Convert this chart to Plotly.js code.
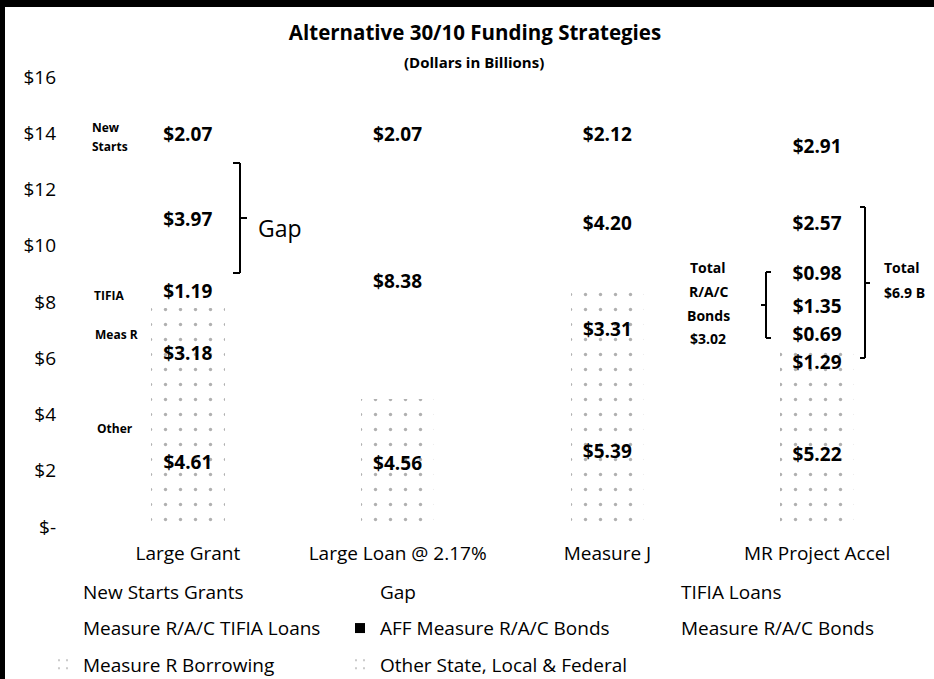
<!DOCTYPE html>
<html>
<head>
<meta charset="utf-8">
<script src="https://cdn.plot.ly/plotly-3.0.1.min.js"></script>
<style>
  html, body { margin:0; padding:0; background:#fff; }
  #chart { position:absolute; left:0; top:0; width:934px; height:679px; }
  .bandTop { position:absolute; left:0; top:0; width:934px; height:7px; background:#000; }
  .bandLeft { position:absolute; left:0; top:0; width:5px; height:679px; background:#000; }
</style>
</head>
<body>
<div id="chart"></div>
<div class="bandTop"></div>
<div class="bandLeft"></div>
<script>
// ---- data ----
var categories = ['Large Grant', 'Large Loan @ 2.17%', 'Measure J', 'MR Project Accel'];
var otherStateLocalFederal = [4.61, 4.56, 5.39, 5.22];
var measureRBorrowing      = [3.18, null, 3.31, 1.29];
var measureRACBonds        = [null, null, 4.20, 0.69];
var affMeasureRACBonds     = [null, null, null, 1.35];
var measureRACTifiaLoans   = [null, null, null, 0.98];
var tifiaLoans             = [1.19, 8.38, null, 2.57];
var gap                    = [3.97, null, null, null];
var newStartsGrants        = [2.07, 2.07, 2.12, 2.91];
var yTickVals  = [0, 2, 4, 6, 8, 10, 12, 14, 16];
var yTickText  = ['$-', '$2', '$4', '$6', '$8', '$10', '$12', '$14', '$16'];

// ---- geometry helpers (layout only) ----
var W = 934, H = 679, ML = 83, MR = 12, MT = 77, MB = 152;
var PW = W - ML - MR, PH = H - MT - MB;
function xP(px) { return (px - ML) / PW; }
function yP(py) { return (H - MB - py) / PH; }

var FONT = 'Open Sans, sans-serif';
var dots = { shape: '.', fgcolor: '#b0b0b0', bgcolor: 'white', size: 15, solidity: 0.04 };

function barTrace(name, vals, legend, rank, pattern) {
  var m = { color: 'white', line: { width: 0 } };
  if (pattern) m.pattern = pattern;
  return {
    type: 'bar', name: name, x: categories, y: vals, width: 0.35,
    marker: m,
    texttemplate: '$%{y:.2f}', textposition: 'inside', insidetextanchor: 'middle',
    textangle: 0, constraintext: 'none',
    textfont: { family: FONT, size: 19, color: '#000', weight: 'bold' },
    legend: legend, legendgroup: name, legendrank: rank,
    hoverinfo: 'skip'
  };
}

var traces = [
  barTrace('Other State, Local & Federal', otherStateLocalFederal, 'legend2', 3, dots),
  barTrace('Measure R Borrowing', measureRBorrowing, 'legend', 3, dots),
  barTrace('Measure R/A/C Bonds', measureRACBonds, 'legend3', 2, null),
  barTrace('AFF Measure R/A/C Bonds', affMeasureRACBonds, 'legend2', 2, null),
  barTrace('Measure R/A/C TIFIA Loans', measureRACTifiaLoans, 'legend', 2, null),
  barTrace('TIFIA Loans', tifiaLoans, 'legend3', 1, null),
  barTrace('Gap', gap, 'legend2', 1, null),
  barTrace('New Starts Grants', newStartsGrants, 'legend', 1, null)
];
// AFF bars are shown plain; the legend key is a black square
traces[3].showlegend = false;
traces.push({
  type: 'scatter', mode: 'markers', name: 'AFF Measure R/A/C Bonds',
  x: [categories[0]], y: [null],
  marker: { symbol: 'square', color: '#000', size: 10 },
  legend: 'legend2', legendgroup: 'affKey', legendrank: 2, hoverinfo: 'skip'
});

function legendAt(px) {
  return {
    x: xP(px), xanchor: 'left', y: yP(573), yanchor: 'top',
    orientation: 'v', traceorder: 'grouped', tracegroupgap: 8.5,
    bgcolor: 'rgba(0,0,0,0)', borderwidth: 0,
    font: { family: FONT, size: 19, color: '#000' }
  };
}

function line(x0, y0, x1, y1) {
  return { type: 'line', xref: 'paper', yref: 'paper',
           x0: xP(x0), y0: yP(y0), x1: xP(x1), y1: yP(y1),
           line: { color: '#000', width: 2 } };
}
function note(text, px, py, size, anchor, bold) {
  return { xref: 'paper', yref: 'paper', x: xP(px), y: yP(py),
           xanchor: anchor || 'left', yanchor: 'middle', showarrow: false,
           align: 'left', text: text,
           font: { family: FONT, size: size, color: '#000', weight: bold ? 'bold' : 'normal' } };
}

var layout = {
  width: W, height: H,
  margin: { l: ML, r: MR, t: MT, b: MB, pad: 0, autoexpand: false },
  paper_bgcolor: 'white', plot_bgcolor: 'white',
  barmode: 'stack',
  font: { family: FONT, size: 19, color: '#000' },
  title: {
    text: 'Alternative 30/10 Funding Strategies',
    xref: 'container', yref: 'container', x: 475 / W, y: 1 - 33 / H,
    xanchor: 'center', yanchor: 'middle',
    font: { family: FONT, size: 20.5, color: '#000', weight: 'bold' }
  },
  xaxis: {
    type: 'category', showgrid: false, zeroline: false, showline: false,
    ticks: '', tickfont: { family: FONT, size: 19, color: '#000' },
    ticklabelstandoff: 13
  },
  yaxis: {
    range: [0, 16], tickvals: yTickVals, ticktext: yTickText,
    showgrid: false, zeroline: false, showline: false, ticks: '',
    tickfont: { family: FONT, size: 19, color: '#000' },
    ticklabelstandoff: 26
  },
  legend: legendAt(43),
  legend2: legendAt(340),
  legend3: legendAt(641),
  shapes: [
    // Gap bracket (Large Grant)
    line(240, 163, 240, 273), line(233, 163, 240, 163), line(233, 273, 240, 273), line(240, 218, 247, 218),
    // Total R/A/C Bonds bracket
    line(766, 272, 766, 338), line(766, 272, 771, 272), line(766, 338, 771, 338), line(761, 305, 766, 305),
    // Total $6.9 B bracket
    line(865, 207, 865, 358), line(860, 207, 865, 207), line(860, 358, 865, 358), line(865, 283, 870, 283)
  ],
  annotations: [
    note('(Dollars in Billions)', 474, 62, 15, 'center', true),
    note('New', 90, 128, 12, 'left', true),
    note('Starts', 90, 146, 12, 'left', true),
    note('TIFIA', 92, 295, 12, 'left', true),
    note('Meas R', 93, 335, 12, 'left', true),
    note('Other', 95, 428, 12, 'left', true),
    note('Gap', 256, 228, 23, 'left', false),
    note('Total', 708, 267, 14, 'center', true),
    note('R/A/C', 708, 291, 14, 'center', true),
    note('Bonds', 708, 315, 14, 'center', true),
    note('$3.02', 708, 338, 14, 'center', true),
    note('Total', 882, 267, 14, 'left', true),
    note('$6.9 B', 882, 292, 14, 'left', true)
  ]
};

Plotly.newPlot('chart', traces, layout, { displayModeBar: false, staticPlot: true });
</script>
</body>
</html>
